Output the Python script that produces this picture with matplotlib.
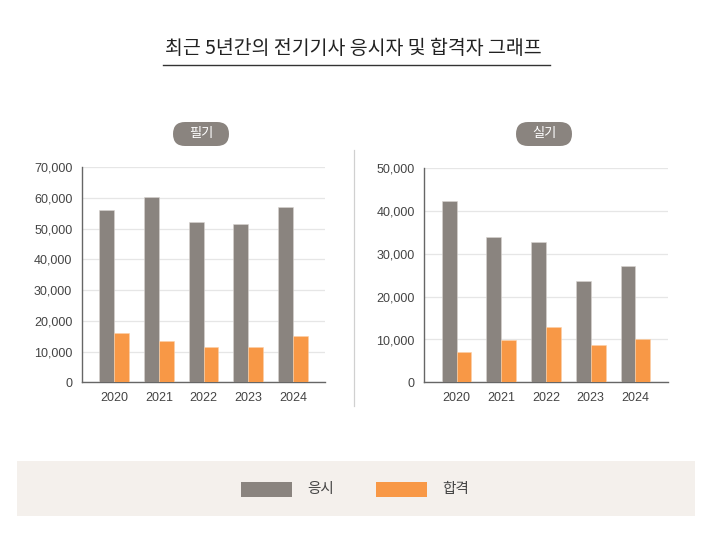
import matplotlib
matplotlib.use("Agg")
import matplotlib.pyplot as plt
from matplotlib.patches import FancyBboxPatch, Rectangle
from matplotlib.transforms import IdentityTransform
from matplotlib.ticker import FuncFormatter, MultipleLocator
import numpy as np

plt.rcParams['font.family'] = ['Noto Sans CJK KR', 'DejaVu Sans']

years = ['2020', '2021', '2022', '2023', '2024']
written_applicants = [56100, 60250, 52100, 51450, 57150]
written_passers = [15950, 13350, 11500, 11400, 14950]
practical_applicants = [42400, 33900, 32700, 23650, 27100]
practical_passers = [7150, 9900, 12900, 8800, 10100]

title = '최근 5년간의 전기기사 응시자 및 합격자 그래프'
panel_titles = ['필기', '실기']
series_names = ['응시', '합격']

GRAY = '#8a847f'
ORANGE = '#f89846'
W, H = 712, 549
fig = plt.figure(figsize=(W / 100, H / 100), dpi=100)
fig.patch.set_facecolor('white')

def px(x0, y0, x1, y1):
    return [x0 / W, 1 - y1 / H, (x1 - x0) / W, (y1 - y0) / H]

def draw_panel(rect, app, pas, ymax):
    ax = fig.add_axes(rect)
    x = np.arange(len(years))
    bw = 0.33
    ax.bar(x - bw / 2, app, width=bw, color=GRAY, zorder=3,
           edgecolor='#d8d4d0', linewidth=0.4)
    ax.bar(x + bw / 2, pas, width=bw, color=ORANGE, zorder=3,
           edgecolor='#fbd0a8', linewidth=0.4)
    ax.set_xlim(-0.72, 4.72)
    ax.set_ylim(0, ymax)
    ax.yaxis.set_major_locator(MultipleLocator(10000))
    ax.yaxis.set_major_formatter(FuncFormatter(lambda v, p: f'{int(v):,}'))
    ax.set_xticks(x)
    ax.set_xticklabels(years)
    ax.grid(axis='y', color='#e6e6e6', linewidth=0.9, zorder=0)
    ax.set_axisbelow(True)
    for s in ['top', 'right']:
        ax.spines[s].set_visible(False)
    for s in ['left', 'bottom']:
        ax.spines[s].set_color('#666666')
        ax.spines[s].set_linewidth(1.0)
    ax.tick_params(length=0, labelsize=9, colors='#444444', pad=7)
    for lab in ax.get_xticklabels() + ax.get_yticklabels():
        lab.set_family(['Liberation Sans', 'DejaVu Sans'])
    return ax

draw_panel(px(82, 167.3, 325, 382.3), written_applicants, written_passers, 70000)
draw_panel(px(424.3, 168.3, 667.7, 382.3), practical_applicants, practical_passers, 50000)

# Title and underline
fig.text(353 / W, 1 - 49 / H, title, ha='center', va='center', fontsize=14,
         color='#222222', fontweight='light')
fig.add_artist(plt.Line2D([163 / W, 550 / W], [1 - 65.5 / H, 1 - 65.5 / H],
                          color='#333333', linewidth=1.0))

# Panel badges (pixel coordinates)
for cx, label in zip([201, 544], panel_titles):
    bw_, bh_ = 56, 24
    badge = FancyBboxPatch((cx - bw_ / 2, H - 134 - bh_ / 2), bw_, bh_,
                           boxstyle='round,pad=0,rounding_size=12',
                           transform=IdentityTransform(), facecolor=GRAY,
                           edgecolor='none')
    fig.add_artist(badge)
    fig.text(cx / W, 1 - 134 / H, label, ha='center', va='center',
             fontsize=9.5, color='white')

# separator
fig.add_artist(plt.Line2D([354 / W, 354 / W], [1 - 150 / H, 1 - 406 / H],
                          color='#d0d0d0', linewidth=0.9))

# Legend box
fig.add_artist(Rectangle((17 / W, 1 - 516 / H), (695 - 17) / W, (516 - 461) / H,
                         transform=fig.transFigure, facecolor='#f4f0ec', edgecolor='none'))
for x0, col, name in [(241, GRAY, series_names[0]), (376, ORANGE, series_names[1])]:
    fig.add_artist(Rectangle((x0 / W, 1 - 497 / H), 51 / W, 15 / H,
                             transform=fig.transFigure, facecolor=col, edgecolor='none'))
    fig.text((x0 + 66) / W, 1 - 489 / H, name, ha='left', va='center',
             fontsize=10.5, color='#444444')

fig.savefig('out.png', dpi=100)
